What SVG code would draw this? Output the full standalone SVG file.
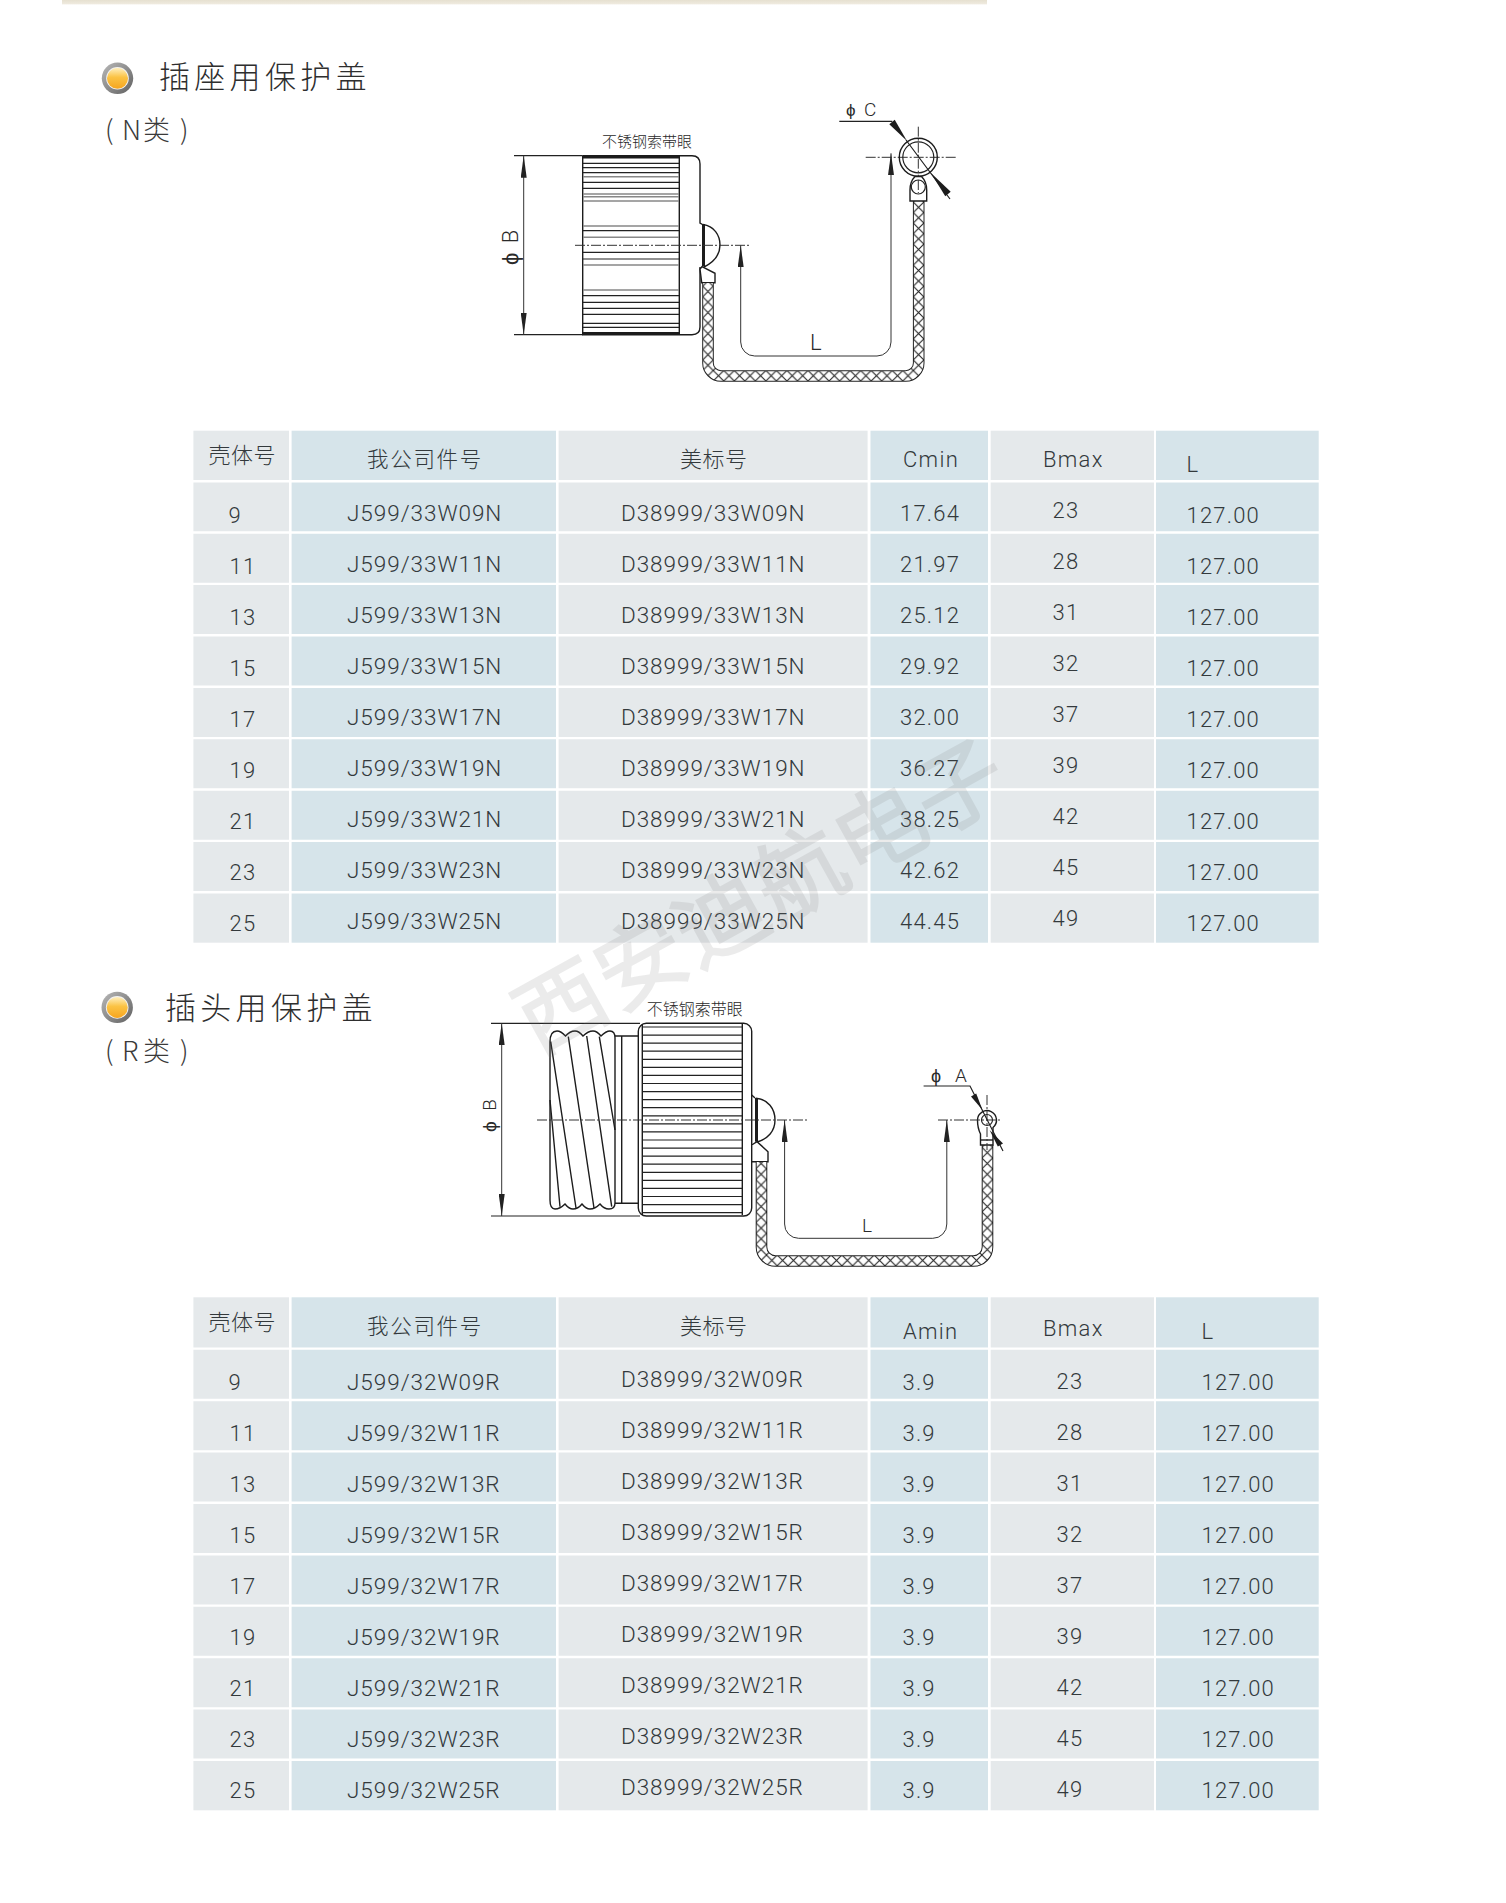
<svg xmlns="http://www.w3.org/2000/svg" width="1506" height="1903" viewBox="0 0 1506 1903">
<style>
text{font-family:Roboto,"Liberation Sans","Noto Sans CJK SC",sans-serif;font-weight:300;fill:#33393c}
.cjk{font-family:"Noto Sans CJK SC","Liberation Sans",sans-serif;font-weight:300}
.b{fill:#d6e4ea}.g{fill:#e5e9eb}
.gap{stroke:#fff;stroke-width:2.4;fill:none}
.hd{font-size:22px;letter-spacing:.5px}
.h5{font-size:21.5px;letter-spacing:1.7px}
.hl{font-size:22px;letter-spacing:1.3px}
.p{font-size:22.5px;letter-spacing:.95px}
.v{font-size:22px;letter-spacing:1.2px}
.title{font-size:31px;letter-spacing:4.3px;fill:#2e2e2e}
.sub{font-size:27px;fill:#3a3a3a}
.l{fill:none;stroke:#222;stroke-width:1.2}
.lk{fill:none;stroke:#1c1c1c;stroke-width:1.4}
.lw{fill:#fff;stroke:#1c1c1c;stroke-width:1.4}
.gy{fill:none;stroke:#888;stroke-width:1.6}
.cl{fill:none;stroke:#333;stroke-width:1;stroke-dasharray:10 2 2 2}
.dim{fill:none;stroke:#333;stroke-width:1}
.fill{fill:#1c1c1c;stroke:none}
.dt{fill:#2a2a2a}
</style>
<defs>
<linearGradient id="strip" x1="0" x2="0" y1="0" y2="1"><stop offset="0" stop-color="#e6e0d0"/><stop offset=".7" stop-color="#eee9dd"/><stop offset="1" stop-color="#fff"/></linearGradient>
<linearGradient id="ring" x1="0" x2="1" y1="0" y2="1"><stop offset="0" stop-color="#b9b9b9"/><stop offset=".5" stop-color="#8d8d8d"/><stop offset="1" stop-color="#5f5f5f"/></linearGradient>
<linearGradient id="amber" x1="0" x2="0" y1="0" y2="1"><stop offset="0" stop-color="#fff0c0"/><stop offset=".45" stop-color="#fbc344"/><stop offset="1" stop-color="#f6a51f"/></linearGradient>
<g id="bullet"><circle r="15.7" fill="url(#ring)"/><circle r="11.3" fill="#f2f2f2"/><circle r="10.5" fill="url(#amber)"/></g>
<marker id="ah" viewBox="0 0 22 6" refX="22" refY="3" markerWidth="22" markerHeight="6" markerUnits="userSpaceOnUse" orient="auto-start-reverse"><path d="M0 0L22 3L0 6Z" fill="#222"/></marker>
<pattern id="mesh1" patternUnits="userSpaceOnUse" x="702.7" y="370.5" width="10.53" height="10.53"><rect width="10.53" height="10.53" fill="#fff"/><path d="M0 0L10.53 10.53M10.53 0L0 10.53" stroke="#222" stroke-width="1.1"/></pattern>
<pattern id="mesh2" patternUnits="userSpaceOnUse" x="755.7" y="1255" width="10.77" height="10.77"><rect width="10.77" height="10.77" fill="#fff"/><path d="M0 0L10.77 10.77M10.77 0L0 10.77" stroke="#222" stroke-width="1.1"/></pattern>
</defs>
<rect width="1506" height="1903" fill="#fff"/>
<rect x="62" y="0" width="925" height="5" fill="url(#strip)"/>

<g id="heading-n">
<use href="#bullet" x="117.5" y="78.3"/>
<text class="cjk title" x="159" y="88">插座用保护盖</text>
<text class="cjk sub" y="140"><tspan x="105">(</tspan><tspan x="122">N</tspan><tspan x="143">类</tspan><tspan x="180">)</tspan></text>
</g>

<g id="table-n">
<rect class="g" x="193.4" y="430.7" width="95.6" height="512"/>
<rect class="b" x="291.6" y="430.7" width="264.4" height="512"/>
<rect class="g" x="558.6" y="430.7" width="309" height="512"/>
<rect class="b" x="870.5" y="430.7" width="117.5" height="512"/>
<rect class="g" x="990.7" y="430.7" width="163.3" height="512"/>
<rect class="b" x="1156" y="430.7" width="162.7" height="512"/>
<path class="gap" d="M193 481.2H1319M193 532.5H1319M193 583.9H1319M193 635.3H1319M193 686.7H1319M193 738.1H1319M193 789.5H1319M193 840.9H1319M193 892.3H1319"/>
<text class="cjk hd" x="208.5" y="463">壳体号</text>
<text class="cjk h5" x="367" y="467">我公司件号</text>
<text class="cjk hd" x="680" y="467">美标号</text>
<text class="hl" x="903" y="467">Cmin</text>
<text class="hl" x="1043" y="467">Bmax</text>
<text class="hl" x="1186.5" y="471.7">L</text>
<text class="v" x="228.5" y="522.5">9</text><text class="v" x="229.5" y="573.5">11</text><text class="v" x="229.5" y="624.5">13</text><text class="v" x="229.5" y="675.5">15</text><text class="v" x="229.5" y="726.5">17</text><text class="v" x="229.5" y="777.5">19</text><text class="v" x="229.5" y="828.5">21</text><text class="v" x="229.5" y="879.5">23</text><text class="v" x="229.5" y="930.5">25</text>
<text class="p" x="347" y="520.5">J599/33W09N</text><text class="p" x="347" y="571.5">J599/33W11N</text><text class="p" x="347" y="622.5">J599/33W13N</text><text class="p" x="347" y="673.5">J599/33W15N</text><text class="p" x="347" y="724.5">J599/33W17N</text><text class="p" x="347" y="775.5">J599/33W19N</text><text class="p" x="347" y="826.5">J599/33W21N</text><text class="p" x="347" y="877.5">J599/33W23N</text><text class="p" x="347" y="928.5">J599/33W25N</text>
<text class="p" x="621" y="520.5">D38999/33W09N</text><text class="p" x="621" y="571.5">D38999/33W11N</text><text class="p" x="621" y="622.5">D38999/33W13N</text><text class="p" x="621" y="673.5">D38999/33W15N</text><text class="p" x="621" y="724.5">D38999/33W17N</text><text class="p" x="621" y="775.5">D38999/33W19N</text><text class="p" x="621" y="826.5">D38999/33W21N</text><text class="p" x="621" y="877.5">D38999/33W23N</text><text class="p" x="621" y="928.5">D38999/33W25N</text>
<text class="v" x="900" y="520.5">17.64</text><text class="v" x="900" y="571.5">21.97</text><text class="v" x="900" y="622.5">25.12</text><text class="v" x="900" y="673.5">29.92</text><text class="v" x="900" y="724.5">32.00</text><text class="v" x="900" y="775.5">36.27</text><text class="v" x="900" y="826.5">38.25</text><text class="v" x="900" y="877.5">42.62</text><text class="v" x="900" y="928.5">44.45</text>
<text class="v" x="1052.5" y="518">23</text><text class="v" x="1052.5" y="569">28</text><text class="v" x="1052.5" y="620">31</text><text class="v" x="1052.5" y="671">32</text><text class="v" x="1052.5" y="722">37</text><text class="v" x="1052.5" y="773">39</text><text class="v" x="1052.5" y="824">42</text><text class="v" x="1052.5" y="875">45</text><text class="v" x="1052.5" y="926">49</text>
<text class="v" x="1186.5" y="522.5">127.00</text><text class="v" x="1186.5" y="573.5">127.00</text><text class="v" x="1186.5" y="624.5">127.00</text><text class="v" x="1186.5" y="675.5">127.00</text><text class="v" x="1186.5" y="726.5">127.00</text><text class="v" x="1186.5" y="777.5">127.00</text><text class="v" x="1186.5" y="828.5">127.00</text><text class="v" x="1186.5" y="879.5">127.00</text><text class="v" x="1186.5" y="930.5">127.00</text>
</g>

<g id="drawing-n">
<path class="l" d="M514 155.7H582.7M514 334.7H582.7"/>
<path class="dim" d="M523.7 155.7V334.7" marker-start="url(#ah)" marker-end="url(#ah)"/>
<path class="lk" d="M582.7 155.7H692Q700 155.7 700 164V223L702.5 224.5"/>
<path class="lk" d="M700 267V327Q700 334.7 692 334.7H582.7V155.7M679.3 155.7V334.7"/>
<path class="lk" style="stroke-width:3" d="M582.7 157H679.3M582.7 333.5H679.3"/>
<path class="l" d="M583 163.3H679M583 167.7H679M583 172.7H679M583 182.3H679M583 188.3H679M583 230.7H679M583 252.3H679M583 259H679M583 295.7H679M583 302.3H679M583 308.3H679M583 314.3H679M583 323.3H679M583 327.3H679"/>
<path class="gy" d="M583 176.7H679M583 194H679M583 196.7H679M583 201H679M583 226H679M583 237.3H679M583 265H679M583 290H679"/>
<path class="lk" style="stroke-width:3" d="M703.5 224V266.5"/>
<path class="lk" d="M703 224.5C714 226 720 235 720 245C720 255 714 262 704 267"/>
<path class="lw" d="M700 269L702 266.7L715 273.3V282.7H701.7Z"/>
<path d="M708 283V363A13 13 0 0 0 721 376H905.7A13 13 0 0 0 918.7 363V201" fill="none" stroke="#222" stroke-width="11.6"/>
<path d="M708 283V363A13 13 0 0 0 721 376H905.7A13 13 0 0 0 918.7 363V201" fill="none" stroke="url(#mesh1)" stroke-width="9.6"/>
<path class="cl" d="M575 245.3H751M865.7 157.3H956M918.3 126.7V193"/>
<circle class="lk" cx="918.3" cy="157.3" r="19"/>
<circle class="l" cx="918.3" cy="157.3" r="15.5"/>
<path class="lw" d="M910 201V190C910 183 912.5 179 915 176.5H921.5C924 179 926.7 183 926.7 190V201Z"/>
<circle class="l" cx="918.3" cy="187" r="7"/>
<path class="cl" d="M918.3 180V193"/>
<path class="dim" d="M740.7 245.3V342A14 14 0 0 0 754.7 356H877A14 14 0 0 0 891 342V153.3" marker-start="url(#ah)" marker-end="url(#ah)"/>
<path class="l" d="M839.3 121.3H892.3M906 140L950 199"/>
<polygon class="fill" points="894.7,119.8 889.3,124.2 907,141"/>
<polygon class="fill" points="930.7,172.7 950.7,191.8 945.3,196.2"/>
<text class="dt" font-size="17" x="846" y="116">ϕ</text>
<text class="dt" font-size="19" x="864" y="116">C</text>
<text class="dt" font-size="22" x="810" y="350">L</text>
<text class="dt" font-size="22" letter-spacing="2" transform="translate(518 265) rotate(-90)">ϕ B</text>
<text class="cjk dt" font-size="15" x="602" y="147">不锈钢索带眼</text>
</g>

<g id="heading-r">
<use href="#bullet" x="117.2" y="1007.4"/>
<text class="cjk title" x="165" y="1019">插头用保护盖</text>
<text class="cjk sub" y="1061"><tspan x="105">(</tspan><tspan x="122">R</tspan><tspan x="143">类</tspan><tspan x="180">)</tspan></text>
</g>

<g id="drawing-r">
<path class="l" d="M491 1023.3H640M491 1216H640"/>
<path class="dim" d="M501.7 1023.3V1216" marker-start="url(#ah)" marker-end="url(#ah)"/>
<path class="lk" d="M550 1042Q550 1031 557 1031Q561 1031 565.5 1036Q570 1031 575 1031Q579 1031 583 1036Q588 1031 593 1031Q597 1031 601 1036Q606 1031 610 1031Q615 1031 615 1038V1203Q615 1209 609 1209Q604 1209 600 1204Q595 1209 590 1209Q586 1209 582 1204Q578 1209 573 1209Q569 1209 565 1204Q560 1209 555 1209Q550 1209 550 1200Z"/>
<path class="lk" d="M550.7 1041.7L576 1208M568.3 1036.7L594 1208M586.7 1036L611.7 1206.7M599.3 1036.7L615 1130M550 1100L560 1206.7"/>
<path class="lk" d="M615 1036H638.3M615 1203.3H638.3M621.7 1036V1203.3"/>
<rect class="lw" x="638.3" y="1023.3" width="113.4" height="192.7" rx="8"/>
<path class="lk" d="M642.3 1024V1215M742.3 1024V1215"/>
<path class="l" d="M642.3 1027H742.3M642.3 1035.1H742.3M642.3 1043.1H742.3M642.3 1051.2H742.3M642.3 1059.3H742.3M642.3 1067.4H742.3M642.3 1075.4H742.3M642.3 1083.5H742.3M642.3 1091.6H742.3M642.3 1099.6H742.3M642.3 1107.7H742.3M642.3 1115.8H742.3M642.3 1123.8H742.3M642.3 1131.9H742.3M642.3 1140H742.3M642.3 1148.1H742.3M642.3 1156.1H742.3M642.3 1164.2H742.3M642.3 1172.3H742.3M642.3 1180.3H742.3M642.3 1188.4H742.3M642.3 1196.5H742.3M642.3 1204.6H742.3M642.3 1212.6H742.3"/>
<path class="lk" d="M751.7 1095L755 1098"/>
<path class="lk" style="stroke-width:3" d="M756.5 1098V1141.7"/>
<path class="lk" d="M756 1098.3C768 1099 775 1109 775 1120C775 1131 768 1139 757 1142"/>
<path class="lw" d="M751.7 1145L757 1141.7L768 1151.7V1161.7H751.7Z"/>
<path d="M761.5 1162V1247A14 14 0 0 0 775.5 1261H973.5A14 14 0 0 0 987.5 1247V1145" fill="none" stroke="#222" stroke-width="11.6"/>
<path d="M761.5 1162V1247A14 14 0 0 0 775.5 1261H973.5A14 14 0 0 0 987.5 1247V1145" fill="none" stroke="url(#mesh2)" stroke-width="9.6"/>
<path class="lw" d="M980.5 1145V1134C978.5 1130 977.5 1125 977.5 1120A9.5 9.5 0 1 1 993 1127.5V1145Z"/>
<circle class="l" cx="987" cy="1120" r="5.5"/>
<path class="lk" d="M980.5 1140H993"/>
<path class="cl" d="M537 1120H807.5M938 1120H1002M987 1095V1150"/>
<path class="dim" d="M784.6 1120V1224A14 14 0 0 0 798.6 1238.3H932.8A14 14 0 0 0 946.8 1224V1120" marker-start="url(#ah)" marker-end="url(#ah)"/>
<path class="l" d="M923.6 1086H970L1003 1151"/>
<polygon class="fill" points="976.2,1093.5 971,1096.5 982.5,1110"/>
<polygon class="fill" points="989.6,1130 1003,1143.5 997.8,1146.5"/>
<text class="dt" font-size="18" x="931" y="1081.7">ϕ</text>
<text class="dt" font-size="19" x="955" y="1081.7">A</text>
<text class="dt" font-size="19" x="862" y="1231.7">L</text>
<text class="dt" font-size="19" letter-spacing="3" transform="translate(496 1132) rotate(-90)">ϕ B</text>
<text class="cjk dt" font-size="16" x="646.7" y="1015">不锈钢索带眼</text>
</g>

<g id="table-r">
<rect class="g" x="193.4" y="1297.3" width="95.6" height="513"/>
<rect class="b" x="291.6" y="1297.3" width="264.4" height="513"/>
<rect class="g" x="558.6" y="1297.3" width="309" height="513"/>
<rect class="b" x="870.5" y="1297.3" width="117.5" height="513"/>
<rect class="g" x="990.7" y="1297.3" width="163.3" height="513"/>
<rect class="b" x="1156" y="1297.3" width="162.7" height="513"/>
<path class="gap" d="M193 1348.6H1319M193 1400H1319M193 1451.4H1319M193 1502.8H1319M193 1554.2H1319M193 1605.6H1319M193 1657H1319M193 1708.4H1319M193 1759.8H1319"/>
<text class="cjk hd" x="208.5" y="1330">壳体号</text>
<text class="cjk h5" x="367" y="1334">我公司件号</text>
<text class="cjk hd" x="680" y="1334">美标号</text>
<text class="hl" x="903" y="1339">Amin</text>
<text class="hl" x="1043" y="1335.7">Bmax</text>
<text class="hl" x="1201.5" y="1339">L</text>
<text class="v" x="228.5" y="1390">9</text><text class="v" x="229.5" y="1441">11</text><text class="v" x="229.5" y="1492">13</text><text class="v" x="229.5" y="1543">15</text><text class="v" x="229.5" y="1594">17</text><text class="v" x="229.5" y="1645">19</text><text class="v" x="229.5" y="1696">21</text><text class="v" x="229.5" y="1747">23</text><text class="v" x="229.5" y="1798">25</text>
<text class="p" x="347" y="1390">J599/32W09R</text><text class="p" x="347" y="1441">J599/32W11R</text><text class="p" x="347" y="1492">J599/32W13R</text><text class="p" x="347" y="1543">J599/32W15R</text><text class="p" x="347" y="1594">J599/32W17R</text><text class="p" x="347" y="1645">J599/32W19R</text><text class="p" x="347" y="1696">J599/32W21R</text><text class="p" x="347" y="1747">J599/32W23R</text><text class="p" x="347" y="1798">J599/32W25R</text>
<text class="p" x="621" y="1387">D38999/32W09R</text><text class="p" x="621" y="1438">D38999/32W11R</text><text class="p" x="621" y="1489">D38999/32W13R</text><text class="p" x="621" y="1540">D38999/32W15R</text><text class="p" x="621" y="1591">D38999/32W17R</text><text class="p" x="621" y="1642">D38999/32W19R</text><text class="p" x="621" y="1693">D38999/32W21R</text><text class="p" x="621" y="1744">D38999/32W23R</text><text class="p" x="621" y="1795">D38999/32W25R</text>
<text class="v" x="902.5" y="1390">3.9</text><text class="v" x="902.5" y="1441">3.9</text><text class="v" x="902.5" y="1492">3.9</text><text class="v" x="902.5" y="1543">3.9</text><text class="v" x="902.5" y="1594">3.9</text><text class="v" x="902.5" y="1645">3.9</text><text class="v" x="902.5" y="1696">3.9</text><text class="v" x="902.5" y="1747">3.9</text><text class="v" x="902.5" y="1798">3.9</text>
<text class="v" x="1056.5" y="1389">23</text><text class="v" x="1056.5" y="1440">28</text><text class="v" x="1056.5" y="1491">31</text><text class="v" x="1056.5" y="1542">32</text><text class="v" x="1056.5" y="1593">37</text><text class="v" x="1056.5" y="1644">39</text><text class="v" x="1056.5" y="1695">42</text><text class="v" x="1056.5" y="1746">45</text><text class="v" x="1056.5" y="1797">49</text>
<text class="v" x="1201.5" y="1389.5">127.00</text><text class="v" x="1201.5" y="1440.5">127.00</text><text class="v" x="1201.5" y="1491.5">127.00</text><text class="v" x="1201.5" y="1542.5">127.00</text><text class="v" x="1201.5" y="1593.5">127.00</text><text class="v" x="1201.5" y="1644.5">127.00</text><text class="v" x="1201.5" y="1695.5">127.00</text><text class="v" x="1201.5" y="1746.5">127.00</text><text class="v" x="1201.5" y="1797.5">127.00</text>
</g>

<text id="watermark" class="cjk" transform="translate(762.5 897) rotate(-28.9)" y="30" text-anchor="middle" font-size="88" letter-spacing="3" style="fill:#7f7f7f;stroke:#7f7f7f;stroke-width:4px;opacity:.15">西安迪航电子</text>
</svg>
